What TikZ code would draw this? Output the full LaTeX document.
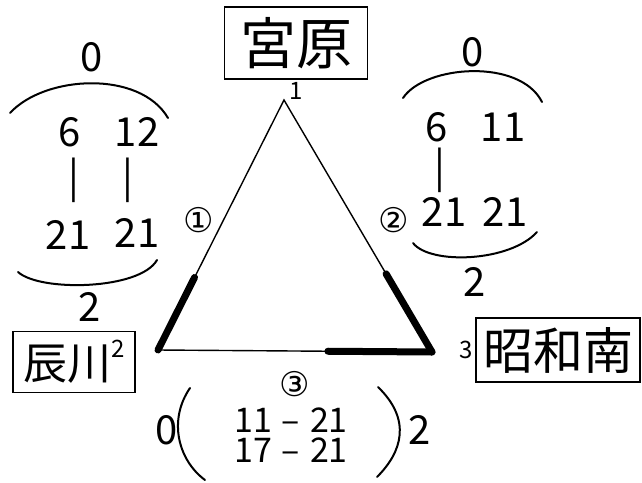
\documentclass[tikz,border=0pt]{standalone}
\usepackage{fontspec}
\setmainfont{Noto Sans CJK JP}
\newfontfamily\circfont{DejaVu Sans}
\usetikzlibrary{positioning, calc}

\begin{document}
\begin{tikzpicture}[x=1pt, y=-1pt,
  station/.style={draw, line width=1.8pt, inner sep=4pt, align=center},
  num/.style={font=\fontsize{40}{40}\selectfont, inner sep=0pt},
  pair/.style={font=\fontsize{34}{34}\selectfont, inner sep=0pt,
               text height=25pt, text depth=0pt},
  small/.style={font=\fontsize{24}{24}\selectfont, inner sep=0pt},
  circnum/.style={font=\circfont\fontsize{34}{34}\selectfont, inner sep=0pt,
                  text height=24pt, text depth=0pt},
  edge/.style={line width=1.4pt},
  busy/.style={line width=7pt, line cap=round},
  bow/.style={line width=2pt, line cap=round}
]
  \useasboundingbox (0,0) rectangle (642,482);

  \node[station, minimum width=143pt, minimum height=72pt,
        font=\fontsize{56}{56}\selectfont] (miyahara) at (296,43) {宮原};
  \node[station, minimum width=122pt, minimum height=61pt,
        font=\fontsize{44}{44}\selectfont] (tatsukawa) at (74,362)
        {辰川\raisebox{0.5em}{\fontsize{24}{24}\selectfont 2}};
  \node[station, minimum width=164pt, minimum height=64pt,
        font=\fontsize{50}{50}\selectfont] (showa) at (558,350) {昭和南};
  \node[small, below=2pt of miyahara] (nmiyahara) {1};
  \node[small, left=2pt of showa] (nshowa) {3};

  \coordinate (vtop) at (284,100);
  \coordinate (vleft) at (158,350);
  \coordinate (vright) at (432,352);
  \draw[edge] (vtop) -- (vleft) -- (vright) -- cycle;
  \draw[busy] (vleft) -- ($(vleft)!0.29!(vtop)$);
  \draw[busy] (vright) -- ($(vright)!0.31!(vtop)$);
  \draw[busy] (vright) -- ($(vright)!0.38!(vleft)$);

  \node[circnum] (edgeA) at (199,220) {①};
  \node[circnum] (edgeB) at (394,220) {②};
  \node[circnum] (edgeC) at (295,384) {③};

  \node[num] (lzero) at (92,57) {0};
  \draw[bow] (10,113) .. controls (45,75) and (140,70) .. (168,118);
  \node[num] (lsixa) at (70,132) {6};
  \node[num] (ltwelve) at (137,132) {12};
  \node[num] (lbara) at (74,180) {|};
  \node[num] (lbarb) at (128,180) {|};
  \node[num] (lendA) at (68,235) {21};
  \node[num] (lendB) at (137,233) {21};
  \draw[bow] (18,272) .. controls (40,292) and (140,290) .. (157,260);
  \node[num] (ltwo) at (90,307) {2};

  \node[num] (rzero) at (473,52) {0};
  \draw[bow] (403,98) .. controls (425,65) and (520,58) .. (542,102);
  \node[num] (rsix) at (437,127) {6};
  \node[num] (releven) at (503,127) {11};
  \node[num] (rbar) at (440,170) {|};
  \node[num] (rendA) at (444,212) {21};
  \node[num] (rendB) at (505,212) {21};
  \draw[bow] (413,243) .. controls (430,265) and (510,262) .. (537,232);
  \node[num] (rtwo) at (475,282) {2};

  \node[num] (bzero) at (167,430) {0};
  \draw[bow] (190,388) .. controls (168,420) and (178,460) .. (205,480);
  \node[pair] (brangeA) at (291,420) {11\hspace{10pt}–\hspace{10pt}21};
  \node[pair] (brangeB) at (291,450) {17\hspace{10pt}–\hspace{10pt}21};
  \draw[bow] (378,387) .. controls (412,420) and (402,452) .. (377,477);
  \node[num] (btwo) at (420,430) {2};
\end{tikzpicture}
\end{document}
